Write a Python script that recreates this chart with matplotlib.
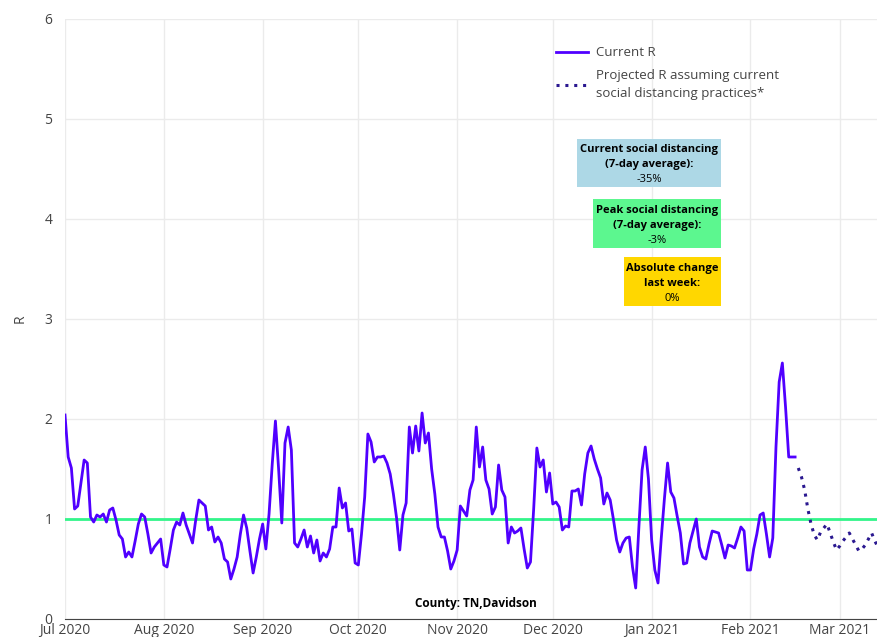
import pandas as pd
import numpy as np
import matplotlib.pyplot as plt
import matplotlib.dates as mdates
from matplotlib.patches import Rectangle

plt.rcParams['font.family'] = ['Open Sans', 'DejaVu Sans']

start = pd.Timestamp('2020-07-01')

# current R, days since 2020-07-01
cur_days = [0, 1, 2, 3, 4, 6, 7, 8, 9, 10, 11, 12, 13, 14, 15, 16, 17, 18, 19, 20,
            21, 22, 23, 24, 25, 26, 27, 28, 29, 30, 31, 32, 33, 34, 35, 36, 37, 38, 39, 40,
            41, 42, 43, 44, 45, 46, 47, 48, 49, 50, 51, 52, 53, 54, 55, 56, 57, 58, 59, 60,
            61, 62, 63, 64, 65, 66, 67, 68, 69, 70, 71, 72, 73, 74, 75, 76, 77, 78, 79, 80,
            81, 82, 83, 84, 85, 86, 87, 88, 89, 90, 91, 92, 93, 94, 95, 96, 97, 98, 99, 100,
            101, 102, 103, 104, 105, 106, 107, 108, 109, 110, 111, 112, 113, 114, 115, 116, 117, 118, 119, 120,
            121, 122, 123, 124, 125, 126, 127, 128, 129, 130, 131, 132, 133, 134, 135, 136, 137, 138, 139, 140,
            141, 142, 143, 144, 145, 146, 147, 148, 149, 150, 151, 152, 153, 154, 155, 156, 157, 158, 159, 160,
            161, 162, 163, 164, 165, 166, 167, 168, 169, 170, 171, 172, 173, 174, 175, 176, 177, 178, 179, 180,
            181, 182, 183, 184, 185, 186, 187, 188, 189, 190, 191, 192, 193, 194, 195, 196, 197, 198, 199, 200,
            201, 202, 203, 204, 205, 206, 207, 208, 209, 210, 211, 212, 213, 214, 215, 216, 217, 218, 219, 220,
            221, 222, 223, 224, 225, 226, 227, 228, 229]
cur_r = [2.04, 1.62, 1.51, 1.10, 1.13, 1.59, 1.56, 1.02, 0.97, 1.04, 1.02, 1.05, 0.97, 1.09, 1.11, 0.99, 0.84, 0.80, 0.62, 0.67,
         0.62, 0.78, 0.95, 1.05, 1.02, 0.85, 0.66, 0.72, 0.76, 0.80, 0.54, 0.52, 0.70, 0.89, 0.97, 0.94, 1.06, 0.94, 0.85, 0.76,
         0.99, 1.19, 1.16, 1.13, 0.89, 0.92, 0.77, 0.82, 0.76, 0.60, 0.57, 0.40, 0.50, 0.62, 0.85, 1.04, 0.91, 0.68, 0.46, 0.62,
         0.80, 0.95, 0.70, 1.05, 1.55, 1.98, 1.50, 0.96, 1.76, 1.92, 1.69, 0.76, 0.72, 0.80, 0.89, 0.72, 0.83, 0.66, 0.79, 0.58,
         0.66, 0.62, 0.70, 0.92, 0.92, 1.31, 1.11, 1.16, 0.88, 0.90, 0.56, 0.54, 0.85, 1.22, 1.85, 1.77, 1.57, 1.62, 1.62, 1.63,
         1.56, 1.45, 1.25, 1.01, 0.69, 1.04, 1.16, 1.92, 1.66, 1.93, 1.68, 2.06, 1.76, 1.86, 1.50, 1.25, 0.92, 0.82, 0.82, 0.68,
         0.50, 0.58, 0.69, 1.13, 1.08, 1.03, 1.29, 1.39, 1.92, 1.52, 1.72, 1.39, 1.30, 1.05, 1.12, 1.54, 1.29, 1.22, 0.76, 0.92,
         0.86, 0.88, 0.91, 0.70, 0.51, 0.57, 1.10, 1.71, 1.52, 1.59, 1.27, 1.46, 1.15, 1.17, 1.12, 0.89, 0.93, 0.92, 1.28, 1.28,
         1.30, 1.14, 1.45, 1.66, 1.73, 1.60, 1.50, 1.41, 1.15, 1.26, 1.19, 1.00, 0.79, 0.67, 0.76, 0.81, 0.82, 0.52, 0.31, 0.92,
         1.49, 1.72, 1.40, 0.79, 0.49, 0.36, 0.80, 1.20, 1.56, 1.27, 1.21, 1.03, 0.86, 0.55, 0.56, 0.76, 0.88, 1.00, 0.72, 0.62,
         0.60, 0.75, 0.88, 0.87, 0.86, 0.74, 0.61, 0.74, 0.73, 0.71, 0.81, 0.92, 0.88, 0.49, 0.49, 0.70, 0.85, 1.04, 1.06, 0.85,
         0.62, 0.81, 1.72, 2.37, 2.56, 2.12, 1.62, 1.62, 1.62]

# projected R
proj_days = [230, 231, 232, 233, 234, 235, 236, 237, 238, 239, 240, 241, 242, 243, 244, 245, 246, 247, 248, 249,
             250, 251, 252, 253, 254, 255]
proj_r = [1.51, 1.42, 1.29, 1.10, 0.95, 0.84, 0.79, 0.87, 0.91, 0.95, 0.86, 0.77, 0.69, 0.73, 0.78, 0.82, 0.86, 0.80, 0.74, 0.68,
          0.70, 0.74, 0.80, 0.86, 0.78, 0.72]

box_titles = [['Current social distancing', '(7-day average):'],
              ['Peak social distancing', '(7-day average):'],
              ['Absolute change', 'last week:']]
box_values = ['-35%', '-3%', '0%']
box_colors = ['#add8e6', '#5cf78f', '#ffd700']

cur_dates = start + pd.to_timedelta(cur_days, unit='D')
proj_dates = start + pd.to_timedelta(proj_days, unit='D')

fig = plt.figure(figsize=(8.78, 6.37), dpi=100)
ax = fig.add_axes([65 / 878, 18 / 637, 813 / 878, 600 / 637])

ax.axhline(1, color='#33f58a', lw=2, zorder=2)
ax.plot(cur_dates, cur_r, color='#5000ff', lw=2, zorder=3, label='Current R')
ax.plot(proj_dates, proj_r, color='#2a1890', lw=2.2, linestyle=(0, (1, 1.9)), zorder=3,
        label='Projected R assuming current\nsocial distancing practices*')

ax.set_ylim(0, 6)
ax.set_xlim(start, start + pd.Timedelta(days=255))
ax.set_yticks(range(7))
ax.xaxis.set_major_locator(mdates.MonthLocator())
ax.xaxis.set_major_formatter(mdates.DateFormatter('%b %Y'))
ax.grid(True, color='#ebebeb', lw=1)
ax.set_axisbelow(True)
for s in ['top', 'right', 'left']:
    ax.spines[s].set_visible(False)
ax.spines['bottom'].set_color('#444444')
ax.tick_params(axis='both', length=0, labelsize=10, colors='#444444')
ax.tick_params(axis='x', pad=3)
ax.tick_params(axis='y', pad=9)
ax.set_ylabel('R', fontsize=10, color='#444444', labelpad=12)

leg = ax.legend(loc='upper left', bbox_to_anchor=(0.598, 0.963), frameon=False, fontsize=9.5,
                handlelength=2.4, handletextpad=0.6, labelcolor='#444444', borderaxespad=0,
                labelspacing=0.75)
for t in leg.get_texts():
    t.set_linespacing(1.45)

# annotation boxes (axes fraction)
boxes = [(0.630, 0.720, 0.807, 0.800), (0.650, 0.618, 0.807, 0.700), (0.687, 0.522, 0.807, 0.603)]
step = 15 / 600
for (x0, y0, x1, y1), t, v, c in zip(boxes, box_titles, box_values, box_colors):
    ax.add_patch(Rectangle((x0, y0), x1 - x0, y1 - y0, transform=ax.transAxes,
                           facecolor=c, edgecolor='none', zorder=4))
    xc = (x0 + x1) / 2
    ym = (y0 + y1) / 2 - 2 / 600
    ax.text(xc, ym + step, t[0], transform=ax.transAxes, ha='center', va='center',
            fontsize=8, fontweight='bold', zorder=5)
    ax.text(xc, ym, t[1], transform=ax.transAxes, ha='center', va='center',
            fontsize=8, fontweight='bold', zorder=5)
    ax.text(xc, ym - step, v, transform=ax.transAxes, ha='center', va='center',
            fontsize=8, zorder=5)

ax.text(0.505, 0.025, 'County: TN,Davidson', transform=ax.transAxes, ha='center', va='center',
        fontsize=8.5, fontweight='bold')

fig.savefig('out.png', dpi=100)
